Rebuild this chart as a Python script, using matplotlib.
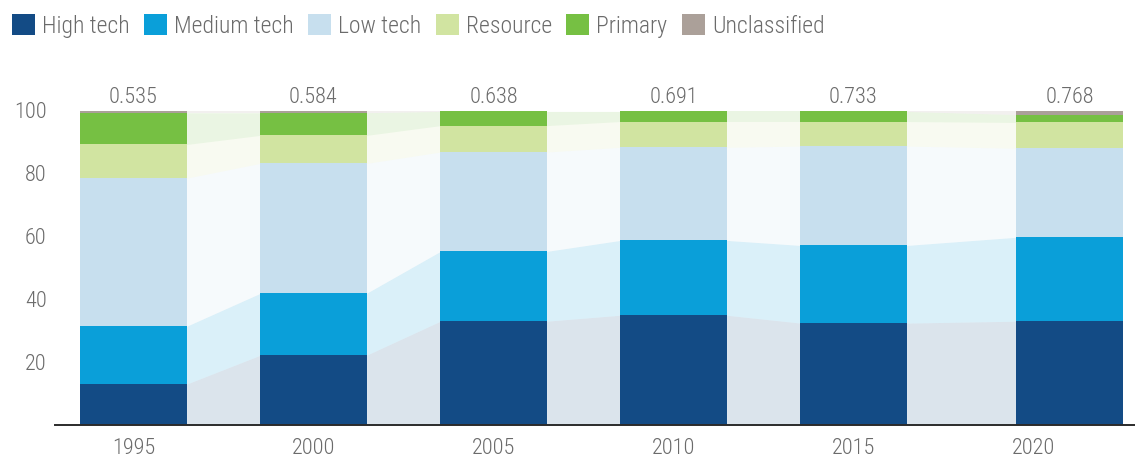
import matplotlib
matplotlib.use("Agg")
import matplotlib.pyplot as plt
from matplotlib.patches import Patch
import numpy as np

years = ["1995", "2000", "2005", "2010", "2015", "2020"]
totals = ["0.535", "0.584", "0.638", "0.691", "0.733", "0.768"]
categories = ["High tech", "Medium tech", "Low tech", "Resource", "Primary", "Unclassified"]

high_tech = [13.0, 22.2, 33.0, 34.9, 32.4, 33.0]
medium_tech = [18.4, 19.7, 22.2, 23.8, 24.7, 26.7]
low_tech = [47.1, 41.3, 31.6, 29.6, 31.6, 28.3]
resource = [10.7, 8.9, 8.4, 8.2, 7.8, 8.2]
primary = [10.1, 7.2, 4.5, 3.2, 3.2, 2.5]
unclassified = [0.7, 0.7, 0.3, 0.3, 0.3, 1.3]

colors = ["#134b85", "#0a9fd9", "#c7dfee", "#d1e4a1", "#76c043", "#aba099"]
text_color = "#6b6b6b"
font = ["Roboto Condensed", "Roboto", "DejaVu Sans"]

plt.rcParams["font.family"] = font
plt.rcParams["font.weight"] = "light"

stack = np.array([high_tech, medium_tech, low_tech, resource, primary, unclassified])
tops = np.cumsum(stack, axis=0)
bottoms = tops - stack

x = np.arange(len(years), dtype=float)
bar_x = x.copy()
bar_x[-1] += 0.2  # last bar sits a little right of its label in the original
width = 0.59

fig = plt.figure(figsize=(11.35, 4.58), dpi=100)
ax = fig.add_axes([55 / 1135, 33 / 458, 1 - 55 / 1135, 314.5 / 458])

for k in range(len(categories)):
    ax.bar(bar_x, stack[k], width, bottom=bottoms[k], color=colors[k], linewidth=0, zorder=2)
    for i in range(len(years) - 1):
        xs = [bar_x[i] + width / 2, bar_x[i + 1] - width / 2]
        ax.fill_between(xs, bottoms[k][i:i + 2], tops[k][i:i + 2],
                        color=colors[k], alpha=0.15, linewidth=0, zorder=1)

for i, label in enumerate(totals):
    ax.annotate(label, (bar_x[i], tops[-1][i]), xytext=(0, 2), textcoords="offset points",
                ha="center", va="bottom", fontsize=16, color=text_color, annotation_clip=False)

ax.set_xlim(-0.436, 5.564)
ax.set_ylim(0, 100)
ax.set_xticks(x, years)
ax.set_yticks([20, 40, 60, 80, 100])
ax.tick_params(axis="both", length=0, labelsize=16, labelcolor=text_color)
ax.tick_params(axis="x", pad=9)
ax.tick_params(axis="y", pad=6)
for side in ["top", "right", "left"]:
    ax.spines[side].set_visible(False)
ax.spines["bottom"].set_color("#2b2b2b")
ax.spines["bottom"].set_linewidth(1.4)
ax.spines["bottom"].set_zorder(3)

handles = [Patch(facecolor=c, edgecolor="none") for c in colors]
fig.legend(handles, categories, loc="upper left", bbox_to_anchor=(12 / 1135, 1 - 14 / 458),
           ncol=6, frameon=False, fontsize=17, labelcolor=text_color,
           handlelength=0.98, handleheight=0.98, handletextpad=0.3, columnspacing=0.6,
           borderaxespad=0, borderpad=0)

fig.savefig("out.png", dpi=100)
